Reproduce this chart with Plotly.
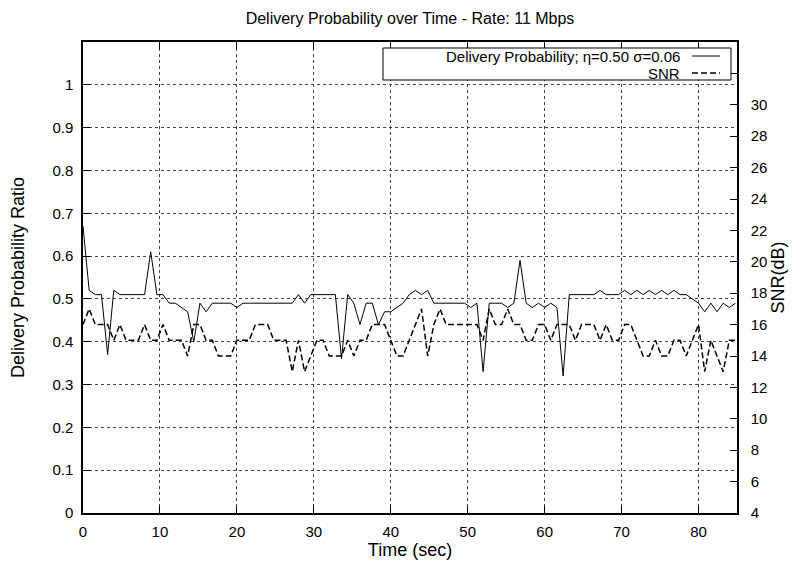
import plotly.graph_objects as go

# ---- data ----
SAMPLE_INTERVAL_S = 0.8  # one sample every 0.8 s

delivery_prob = [
    0.67, 0.52, 0.51, 0.51, 0.37, 0.52, 0.51, 0.51, 0.51, 0.51,
    0.51, 0.61, 0.51, 0.51, 0.49, 0.49, 0.48, 0.47, 0.40, 0.49,
    0.47, 0.49, 0.49, 0.49, 0.49, 0.48, 0.49, 0.49, 0.49, 0.49,
    0.49, 0.49, 0.49, 0.49, 0.49, 0.51, 0.49, 0.51, 0.51, 0.51,
    0.51, 0.51, 0.36, 0.51, 0.49, 0.44, 0.49, 0.49, 0.44, 0.47,
    0.47, 0.48, 0.49, 0.51, 0.52, 0.51, 0.52, 0.49, 0.49, 0.49,
    0.49, 0.49, 0.49, 0.48, 0.49, 0.33, 0.49, 0.49, 0.49, 0.48,
    0.49, 0.59, 0.49, 0.48, 0.49, 0.48, 0.49, 0.48, 0.32, 0.51,
    0.51, 0.51, 0.51, 0.51, 0.52, 0.51, 0.51, 0.51, 0.52, 0.51,
    0.52, 0.51, 0.52, 0.51, 0.52, 0.51, 0.52, 0.51, 0.51, 0.50,
    0.49, 0.47, 0.49, 0.47, 0.49, 0.48, 0.49,
]

snr_db = [
    16, 17, 16, 16, 16, 15, 16, 15, 15, 15,
    16, 15, 15, 16, 15, 15, 15, 14, 16, 16,
    15, 15, 14, 14, 14, 15, 15, 15, 16, 16,
    16, 15, 15, 15, 13, 15, 13, 14, 15, 15,
    14, 14, 14, 15, 14, 15, 15, 16, 16, 16,
    15, 14, 14, 15, 16, 17, 14, 16, 17, 16,
    16, 16, 16, 16, 16, 15, 17, 16, 16, 17,
    16, 16, 15, 15, 16, 16, 15, 16, 16, 16,
    15, 16, 16, 16, 15, 16, 15, 15, 16, 16,
    15, 14, 14, 15, 14, 14, 15, 15, 14, 15,
    16, 13, 15, 14, 13, 15, 15,
]

time_s = [round(i * SAMPLE_INTERVAL_S, 1) for i in range(len(delivery_prob))]

x_ticks = [0, 10, 20, 30, 40, 50, 60, 70, 80]
y_ticks = [0, 0.1, 0.2, 0.3, 0.4, 0.5, 0.6, 0.7, 0.8, 0.9, 1.0]
y_tick_labels = ["0", "0.1", "0.2", "0.3", "0.4", "0.5", "0.6", "0.7", "0.8", "0.9", "1"]
y2_ticks = [4, 6, 8, 10, 12, 14, 16, 18, 20, 22, 24, 26, 28, 30, 32]
y2_tick_labels = ["4", "6", "8", "10", "12", "14", "16", "18", "20", "22", "24", "26", "28", "30", ""]

title_text = "Delivery Probability over Time - Rate: 11 Mbps"
legend_dp = "Delivery Probability; η=0.50 σ=0.06"
legend_snr = "SNR"

FONT = "Liberation Sans, Arial, Helvetica, sans-serif"
SNR_DASH = "6px,3px"

fig = go.Figure()
fig.add_trace(go.Scatter(
    x=time_s, y=delivery_prob, mode="lines", name=legend_dp,
    line=dict(color="black", width=1), showlegend=False,
))
fig.add_trace(go.Scatter(
    x=time_s, y=snr_db, mode="lines", name=legend_snr, yaxis="y2",
    line=dict(color="black", width=1.5, dash=SNR_DASH), showlegend=False,
))

axis_common = dict(
    ticks="inside", ticklen=7, tickcolor="black", tickwidth=1,
    showline=True, linecolor="black", linewidth=1.5, automargin=False,
    zeroline=False, tickfont=dict(family=FONT, size=15, color="black"),
)

fig.update_layout(
    width=799, height=561,
    margin=dict(l=83, r=62, t=42, b=48, autoexpand=False),
    paper_bgcolor="white", plot_bgcolor="white",
    font=dict(family=FONT, color="black"),
    title=dict(text=title_text, x=0.5, xref="paper", xanchor="center",
               y=1 - 18 / 561, yref="container", yanchor="middle",
               font=dict(family=FONT, size=16, color="black")),
    xaxis=dict(
        range=[0, 85], tickvals=x_ticks, mirror="ticks", ticklabelstandoff=4,
        showgrid=True, gridcolor="#444", griddash="dot", gridwidth=1,
        title=dict(text="Time (sec)", font=dict(family=FONT, size=18), standoff=5),
        **axis_common,
    ),
    yaxis=dict(
        range=[0, 1.1], tickvals=y_ticks, ticktext=y_tick_labels, mirror=True,
        ticklabelstandoff=5,
        showgrid=True, gridcolor="#444", griddash="dot", gridwidth=1,
        title=dict(text="Delivery Probability Ratio", font=dict(family=FONT, size=18), standoff=23),
        **axis_common,
    ),
    yaxis2=dict(
        range=[4, 34], tickvals=y2_ticks, ticktext=y2_tick_labels,
        overlaying="y", side="right", showgrid=False, ticklabelstandoff=9,
        title=dict(text="SNR(dB)", font=dict(family=FONT, size=18), standoff=5),
        **axis_common,
    ),
)

# gnuplot-style key box (text right-aligned, sample line to the right)
px_x = lambda px: (px - 83) / 654
px_y = lambda py: (513 - py) / 471
fig.add_shape(type="rect", xref="paper", yref="paper",
              x0=px_x(383), x1=px_x(731), y0=px_y(80), y1=px_y(48),
              line=dict(color="black", width=1), fillcolor="white", layer="above")
fig.add_annotation(xref="paper", yref="paper", x=px_x(682), y=px_y(56),
                   xanchor="right", yanchor="middle", showarrow=False,
                   text=legend_dp, font=dict(family=FONT, size=15, color="black"))
fig.add_annotation(xref="paper", yref="paper", x=px_x(682), y=px_y(73),
                   xanchor="right", yanchor="middle", showarrow=False,
                   text=legend_snr, font=dict(family=FONT, size=15, color="black"))
fig.add_shape(type="line", xref="paper", yref="paper",
              x0=px_x(692), x1=px_x(720), y0=px_y(56), y1=px_y(56),
              line=dict(color="black", width=1), layer="above")
fig.add_shape(type="line", xref="paper", yref="paper",
              x0=px_x(692), x1=px_x(720), y0=px_y(73), y1=px_y(73),
              line=dict(color="black", width=1.5, dash=SNR_DASH), layer="above")

fig.write_html("out.html")
